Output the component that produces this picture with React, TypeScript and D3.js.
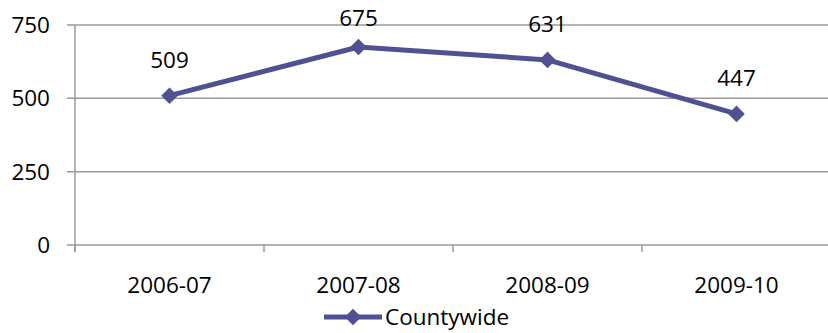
import React from 'react';
import * as d3 from 'd3';

// chart data
const seasons = ['2006-07', '2007-08', '2008-09', '2009-10'];
const countywide = [509, 675, 631, 447];
const yTicks = [0, 250, 500, 750];

const W = 828;
const H = 333;
const margin = { top: 25, right: -3, bottom: 88, left: 75 };
const FONT = '"Open Sans", sans-serif';
const LINE = '#4F5191';
const GRID = '#9A9A9A';
const FS = 22.5;

export default function App() {
  const innerW = W - margin.left - margin.right;
  const innerH = H - margin.top - margin.bottom;

  const x = d3.scaleBand<string>().domain(seasons).range([0, innerW]);
  const y = d3.scaleLinear().domain([0, 750]).range([innerH, 0]);

  const pts = seasons.map((s, i) => ({ s, v: countywide[i], px: (x(s) ?? 0) + x.bandwidth() / 2, py: y(countywide[i]) }));
  const line = d3.line<{ px: number; py: number }>().x(d => d.px).y(d => d.py);
  const diamond = d3.symbol().type(d3.symbolDiamond2).size(175)() as string;

  const boundaries = seasons.map(s => x(s) ?? 0).concat([innerW]);

  return (
    <div style={{ position: 'absolute', left: 0, top: 0 }}>
      <svg width={W} height={H} style={{ display: 'block' }} fontFamily={FONT}>
        <g transform={`translate(${margin.left},${margin.top})`}>
          {yTicks.map(t => (
            <g key={t}>
              <line x1={-8} x2={innerW} y1={y(t)} y2={y(t)} stroke={GRID} strokeWidth={1.5} />
              <text x={-25} y={y(t)} dy="0.36em" textAnchor="end" fontSize={FS} fill="#000">{t}</text>
            </g>
          ))}
          <line x1={0} x2={0} y1={0} y2={innerH + 7} stroke={GRID} strokeWidth={1.5} />
          {boundaries.map((b, i) => (
            <line key={i} x1={b} x2={b} y1={innerH} y2={innerH + 7} stroke={GRID} strokeWidth={1.5} />
          ))}
          {seasons.map(s => (
            <text key={s} x={(x(s) ?? 0) + x.bandwidth() / 2} y={innerH + 48} textAnchor="middle" fontSize={FS} fill="#000">{s}</text>
          ))}
          <path d={line(pts) ?? ''} fill="none" stroke={LINE} strokeWidth={5} strokeLinejoin="round" />
          {pts.map(p => (
            <g key={p.s}>
              <path d={diamond} transform={`translate(${p.px},${p.py})`} fill={LINE} />
              <text x={p.px} y={Math.max(p.py - 28, 1)} textAnchor="middle" fontSize={FS} fill="#000">{p.v}</text>
            </g>
          ))}
        </g>
        <g transform={`translate(324,${H - 16})`}>
          <line x1={0} x2={58} y1={0} y2={0} stroke={LINE} strokeWidth={5} />
          <path d={diamond} transform="translate(29,0)" fill={LINE} />
          <text x={61} y={0} dy="0.36em" fontSize={FS} fill="#000">Countywide</text>
        </g>
      </svg>
    </div>
  );
}
